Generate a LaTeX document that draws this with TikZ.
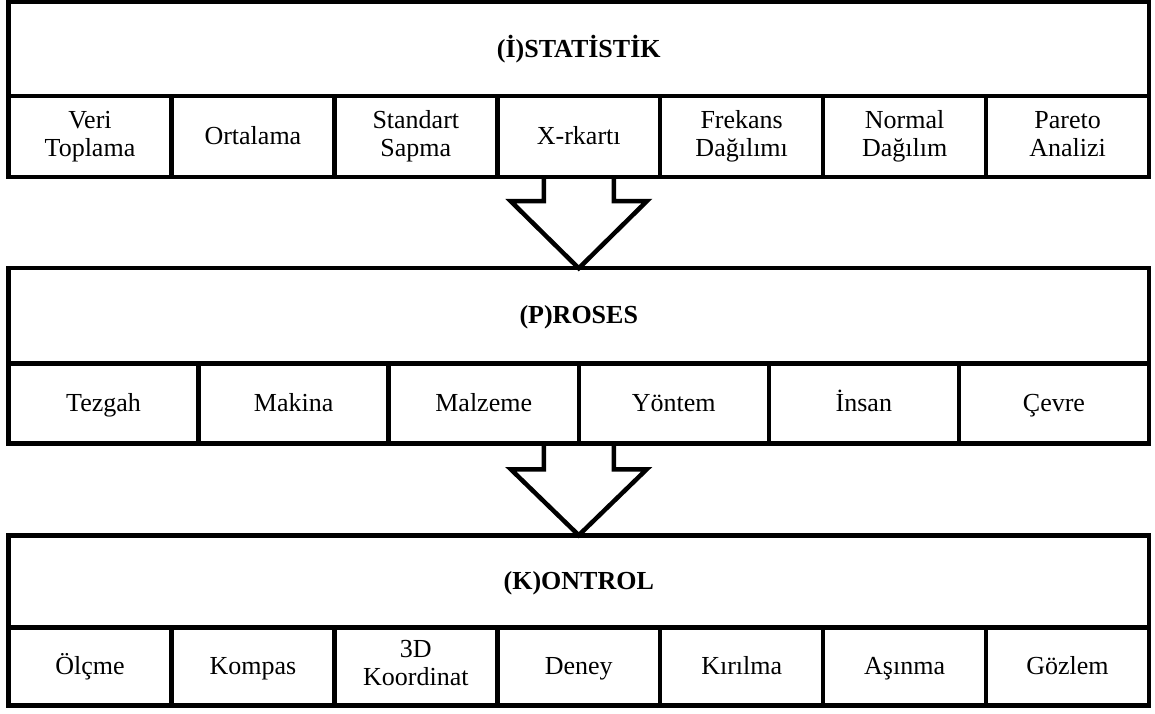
\documentclass[tikz,border=0pt]{standalone}
\usepackage{fontspec}
\setmainfont{Liberation Serif}
\usetikzlibrary{positioning,calc}
\newcommand{\cellstrut}{\rule[-5.75pt]{0pt}{27.5pt}}

\begin{document}
\begin{tikzpicture}[
    x=1pt, y=1pt,
    node distance=0pt,
    every node/.style={font=\fontsize{26}{28}\selectfont},
    title/.style={draw, line width=4.5pt, outer sep=0pt, minimum width=1140.5pt, minimum height=94pt, font=\fontsize{26}{28}\selectfont\bfseries,
        execute at begin node=\cellstrut},
    cell/.style={draw, line width=4.5pt, outer sep=0pt, minimum height=81pt, align=center, inner sep=0pt,
        execute at begin node=\cellstrut, execute at end node=\cellstrut},
    seven/.style={cell, minimum width=162.93pt},
    six/.style={cell, minimum width=190.08pt},
    blockarrow/.style={draw, line width=4.5pt, line join=miter}
]
\useasboundingbox (0,0) rectangle (1155,713);

% Istatistik
\node[title] (stat) at (578.75,663.75) {(İ)STATİSTİK};
\node[seven, anchor=north west] (veri) at (stat.south west) {Veri\\Toplama};
\node[seven, right=of veri] (ort) {Ortalama};
\node[seven, right=of ort] (std) {Standart\\Sapma};
\node[seven, right=of std] (xkart) {X-rkartı};
\node[seven, right=of xkart] (frek) {Frekans\\Dağılımı};
\node[seven, right=of frek] (norm) {Normal\\Dağılım};
\node[seven, right=of norm] (pareto) {Pareto\\Analizi};

% Proses
\node[title, minimum height=95pt, below=91pt of xkart.south] (proses) {(P)ROSES};
\node[six, minimum height=80pt, anchor=north west] (tezgah) at (proses.south west) {Tezgah};
\node[six, minimum height=80pt, right=of tezgah] (makina) {Makina};
\node[six, minimum height=80pt, right=of makina] (malz) {Malzeme};
\node[six, minimum height=80pt, right=of malz] (yontem) {Yöntem};
\node[six, minimum height=80pt, right=of yontem] (insan) {İnsan};
\node[six, minimum height=80pt, right=of insan] (cevre) {Çevre};

% Kontrol
\node[title, minimum height=92pt, below=92pt of malz.south east] (kontrol) {(K)ONTROL};
\node[seven, minimum height=78pt, anchor=north west] (olcme) at (kontrol.south west) {Ölçme};
\node[seven, minimum height=78pt, right=of olcme] (kompas) {Kompas};
\node[seven, minimum height=78pt, right=of kompas] (koord) {3D\\Koordinat};
\node[seven, minimum height=78pt, right=of koord] (deney) {Deney};
\node[seven, minimum height=78pt, right=of deney] (kirilma) {Kırılma};
\node[seven, minimum height=78pt, right=of kirilma] (asinma) {Aşınma};
\node[seven, minimum height=78pt, right=of asinma] (gozlem) {Gözlem};

% Arrows
\draw[blockarrow] ($(xkart.south)+(-35,0)$) -- ($(proses.north)+(-35,67)$) -- ($(proses.north)+(-68,67)$) -- (proses.north) -- ($(proses.north)+(68,67)$) -- ($(proses.north)+(35,67)$) -- ($(xkart.south)+(35,0)$);
\draw[blockarrow] ($(malz.south east)+(-35,0)$) -- ($(kontrol.north)+(-35,66)$) -- ($(kontrol.north)+(-68,66)$) -- (kontrol.north) -- ($(kontrol.north)+(68,66)$) -- ($(kontrol.north)+(35,66)$) -- ($(malz.south east)+(35,0)$);

\end{tikzpicture}
\end{document}
